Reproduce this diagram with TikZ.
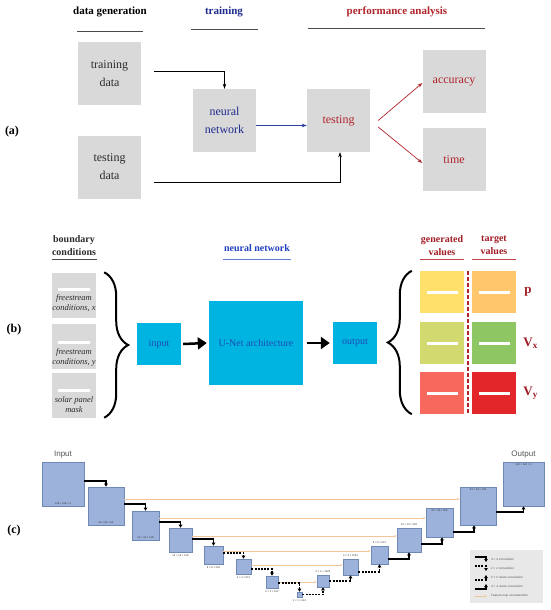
\documentclass[tikz,border=0pt]{standalone}
\usepackage{fontspec}
\setmainfont{Liberation Serif}
\setsansfont{Liberation Sans}
\usepackage{xcolor}
\usepackage{tikz}
\usetikzlibrary{arrows.meta,positioning,decorations.pathreplacing}
\definecolor{GrayF}{HTML}{D9D9D9}
\definecolor{LineG}{HTML}{4A4A4A}
\definecolor{TextG}{HTML}{2B2B2B}
\definecolor{NavyT}{HTML}{1F2C8C}
\definecolor{NavyB}{HTML}{2040C0}
\definecolor{BlueA}{HTML}{2E3F9E}
\definecolor{RedT}{HTML}{B0242B}
\definecolor{DRed}{HTML}{A01C24}
\definecolor{RedL}{HTML}{C0484E}
\definecolor{CyanF}{HTML}{00B4E1}
\definecolor{CyanT}{HTML}{1D4DB5}
\definecolor{YelF}{HTML}{FFE06B}
\definecolor{OrnF}{HTML}{FFC66B}
\definecolor{OlvF}{HTML}{D2D96E}
\definecolor{GrnF}{HTML}{8DC663}
\definecolor{SalF}{HTML}{F8695D}
\definecolor{RedF}{HTML}{E3262A}
\definecolor{UFill}{HTML}{9CB2DA}
\definecolor{UEdge}{HTML}{7088B5}
\definecolor{SkipC}{HTML}{F2C49A}
\definecolor{LegF}{HTML}{E8E8E8}
\definecolor{LabG}{HTML}{555555}
\newcommand{\whbar}{\textcolor{white}{\rule{31pt}{3pt}}}

\begin{document}
\begin{tikzpicture}[x=1pt,y=-1pt,
    hd/.style={font=\fontsize{11}{13}\selectfont\bfseries,text=black},
    hdb/.style={font=\fontsize{10}{13}\selectfont\bfseries,align=center,text=TextG},
    tag/.style={font=\fontsize{12}{14}\selectfont\bfseries},
    rule/.style={draw=LineG,line width=0.8pt},
    gbox/.style={fill=GrayF,minimum width=63pt,minimum height=63pt,inner sep=0pt,
      align=center,font=\fontsize{12}{18}\selectfont,text=TextG},
    arr/.style={-{Stealth[length=5pt,width=3.5pt]},line width=0.7pt},
    bcbox/.style={fill=GrayF,minimum width=44pt,minimum height=45pt,inner sep=0pt},
    bctxt/.style={font=\fontsize{8.5}{10}\selectfont\itshape,align=center,text=TextG,inner sep=0pt},
    wbar/.style={white,line width=2.5pt},
    brc/.style={decorate,decoration={brace,amplitude=24pt},line width=2pt},
    cbox/.style={fill=CyanF,text=CyanT,inner sep=0pt,font=\fontsize{10}{12}\selectfont},
    fat/.style={line width=2.5pt,-{Triangle[length=9pt,width=12pt]}},
    vbox/.style={minimum width=44pt,minimum height=42pt,inner sep=0pt},
    vl/.style={font=\fontsize{13}{15}\selectfont\bfseries,text=DRed,inner sep=0pt},
    ublk/.style={fill=UFill,draw=UEdge,line width=0.6pt,inner sep=0pt},
    ulab/.style={font=\sffamily\fontsize{2.6}{3}\selectfont,inner sep=0.4pt,text=black!80},
    utit/.style={font=\sffamily\fontsize{8}{9}\selectfont,text=LabG,inner sep=1pt},
    conv/.style={line width=1.1pt,-{Triangle[length=3pt,width=3.5pt]}},
    convd/.style={conv,dash pattern=on 2pt off 1.2pt},
    skipc/.style={draw=SkipC,line width=0.6pt,-{Stealth[length=2.5pt,width=2pt]}},
    ltxt/.style={font=\sffamily\fontsize{3}{3.5}\selectfont,text=LabG,anchor=west,inner sep=0pt}]
  \useasboundingbox (0,0) rectangle (550,610);

  % (a) workflow
  \node[hd] (hgen) at (110,12) {data generation};
  \node[hd,text=NavyT] (htrn) at (224,12) {training};
  \node[hd,text=RedT] (hperf) at (397,12) {performance analysis};
  \draw[rule] (77,31) -- (143,31);
  \draw[rule] (191,29) -- (258,29);
  \draw[rule] (308,28) -- (485,28);
  \node[gbox] (trn) at (109.5,73.5) {training\\data};
  \node[gbox] (tst) at (109.5,167) {testing\\data};
  \node[gbox,text=NavyT] (nn) at (224.5,120.5) {neural\\network};
  \node[gbox,text=RedT] (test) at (338.5,120.5) {testing};
  \node[gbox,text=RedT] (acc) at (454,81.5) {accuracy};
  \node[gbox,text=RedT] (tim) at (454,159.5) {time};
  \node[tag] (ta) at (12,132) {(a)};
  \draw[arr] ([xshift=13pt,yshift=2.5pt]trn.east) -| (nn.north);
  \draw[arr] ([xshift=13pt,yshift=-15pt]tst.east) -| ([xshift=1.5pt]test.south);
  \draw[arr,BlueA] ([yshift=-5pt]nn.east) -- ([yshift=-5pt]test.west);
  \draw[arr,RedT] ([xshift=8pt]test.east) -- ([yshift=-1.5pt]acc.west);
  \draw[arr,RedT] ([xshift=8pt,yshift=-6.5pt]test.east) -- ([yshift=-3.5pt]tim.west);

  % (b) inputs / network / outputs
  \node[tag] (tb) at (14,330) {(b)};
  \node[hdb] (hbc) at (74,245.5) {boundary\\conditions};
  \draw[rule] (52,259) -- (97,259);
  \node[bcbox] (bc1) at (74,295) {};
  \node[bcbox] (bc2) at (74,346) {};
  \node[bcbox] (bc3) at (74,395) {};
  \draw[wbar] ([xshift=6pt,yshift=-17pt]bc1.north west) -- ([xshift=-6pt,yshift=-17pt]bc1.north east);
  \draw[wbar] ([xshift=6pt,yshift=-19pt]bc2.north west) -- ([xshift=-6pt,yshift=-19pt]bc2.north east);
  \draw[wbar] ([xshift=6pt,yshift=-18pt]bc3.north west) -- ([xshift=-6pt,yshift=-18pt]bc3.north east);
  \node[bctxt] (bt1) at ([yshift=-8pt]bc1.center) {freestream\\conditions, x};
  \node[bctxt] (bt2) at ([yshift=-11pt]bc2.center) {freestream\\conditions, y};
  \node[bctxt] (bt3) at ([yshift=-10pt]bc3.center) {solar panel\\mask};
  \draw[brc] ([xshift=8pt]bc1.north east) -- ([xshift=8pt]bc3.south east);

  \node[hdb,text=NavyB] (hnn) at (257,248) {neural network};
  \draw[rule,draw=NavyB!70] (223,259) -- (291,259);
  \node[cbox,minimum width=44pt,minimum height=42pt] (inp) at (159,344) {input};
  \node[cbox,minimum width=94pt,minimum height=84pt] (unet) at (256,343) {U-Net architecture};
  \node[cbox,minimum width=44pt,minimum height=42pt] (outp) at (355,343) {output};
  \draw[fat] ([xshift=2pt]inp.east) -- ([xshift=-2pt]unet.west);
  \draw[fat] ([xshift=4pt]unet.east) -- ([xshift=-3pt]outp.west);

  \node[hdb,text=DRed] (hgv) at (442,245.5) {generated\\values};
  \node[hdb,text=DRed] (htv) at (494,245.5) {target\\values};
  \draw[rule,draw=RedL] (420,259) -- (464,259);
  \draw[rule,draw=RedL] (472,259) -- (516,259);
  \node[vbox,fill=YelF] (gp) at (442,292) {\whbar};
  \node[vbox,fill=OrnF] (tp) at (494,292) {\whbar};
  \node[vbox,fill=OlvF] (gvx) at (442,343) {\whbar};
  \node[vbox,fill=GrnF] (tvx) at (494,343) {\whbar};
  \node[vbox,fill=SalF] (gvy) at (442,393) {\whbar};
  \node[vbox,fill=RedF] (tvy) at (494,393) {\whbar};
  \draw[RedT,line width=1.5pt,dash pattern=on 4pt off 2pt]
    ([xshift=4pt]gp.north east) -- ([xshift=4pt]gvy.south east);
  \draw[brc] ([xshift=-8pt]gvy.south west) -- ([xshift=-8pt]gp.north west);
  \node[vl,right=8pt of tp] (lp) {p};
  \node[vl,right=7pt of tvx] (lvx) {V\textsubscript{x}};
  \node[vl,right=7pt of tvy] (lvy) {V\textsubscript{y}};

  % (c) U-Net
  \node[tag] (tc) at (14,531) {(c)};
  \node[ublk,minimum width=42pt,minimum height=44pt] (e1) at (63,484) {};
  \node[ublk,minimum width=36pt,minimum height=38pt] (e2) at (106,506) {};
  \node[ublk,minimum width=27pt,minimum height=29pt] (e3) at (145.5,525.5) {};
  \node[ublk,minimum width=23pt,minimum height=24pt] (e4) at (180.5,540) {};
  \node[ublk,minimum width=19pt,minimum height=18pt] (e5) at (213.5,555) {};
  \node[ublk,minimum width=15pt,minimum height=15pt] (e6) at (243.5,566.5) {};
  \node[ublk,minimum width=12pt,minimum height=12pt] (e7) at (272,582) {};
  \node[ublk,minimum width=5pt,minimum height=5pt] (e8) at (299.5,594.5) {};
  \node[ublk,minimum width=12pt,minimum height=12pt] (d9) at (323,581) {};
  \node[ublk,minimum width=15pt,minimum height=16pt] (d10) at (350.5,567) {};
  \node[ublk,minimum width=17pt,minimum height=18pt] (d11) at (379.5,555) {};
  \node[ublk,minimum width=24pt,minimum height=24pt] (d12) at (409,540) {};
  \node[ublk,minimum width=27pt,minimum height=29pt] (d13) at (439.5,522.5) {};
  \node[ublk,minimum width=36pt,minimum height=38pt] (d14) at (478,506) {};
  \node[ublk,minimum width=41pt,minimum height=44pt] (d15) at (523.5,484) {};
  \node[utit,above=2pt of e1] (tin) {Input};
  \node[utit,above=2pt of d15] (tout) {Output};
  \node[ulab,above=1.5pt of e1.south] (le1) {128 × 128 × 3};
  \node[ulab,above=1.5pt of e2.south] (le2) {64 × 64 × 64};
  \node[ulab,above=1.5pt of e3.south] (le3) {32 × 32 × 128};
  \node[ulab,below=1.5pt of e4] (le4) {16 × 16 × 128};
  \node[ulab,below=1.5pt of e5] (le5) {8 × 8 × 256};
  \node[ulab,below=1.5pt of e6] (le6) {4 × 4 × 512};
  \node[ulab,below=1.5pt of e7] (le7) {2 × 2 × 512};
  \node[ulab,below=1.5pt of e8] (le8) {1 × 1 × 512};
  \node[ulab,above=1.5pt of d9] (ld9) {2 × 2 × 1024};
  \node[ulab,above=1.5pt of d10] (ld10) {4 × 4 × 1024};
  \node[ulab,above=1.5pt of d11] (ld11) {8 × 8 × 512};
  \node[ulab,above=1.5pt of d12] (ld12) {16 × 16 × 256};
  \node[ulab,below=1.5pt of d13.north] (ld13) {32 × 32 × 256};
  \node[ulab,below=1.5pt of d14.north] (ld14) {64 × 64 × 128};
  \node[ulab,below=1.5pt of d15.north] (ld15) {128 × 128 × 4};
  % skip connections
  \draw[skipc] ([yshift=7pt]e2.east) coordinate (s2) -- (s2 -| d14.west);
  \draw[skipc] ([yshift=7.5pt]e3.east) coordinate (s3) -- (s3 -| d13.west);
  \draw[skipc] ([yshift=4pt]e4.east) coordinate (s4) -- (s4 -| d12.west);
  \draw[skipc] ([yshift=4pt]e5.east) coordinate (s5) -- (s5 -| d11.west);
  \draw[skipc] ([yshift=1.5pt]e6.east) coordinate (s6) -- (s6 -| d10.west);
  \draw[skipc] (e7.east) -- (e7.east -| d9.west);
  % down path
  \draw[conv] ([yshift=3pt]e1.east) -| (e2.north);
  \draw[conv] ([yshift=2pt]e2.east) -| (e3.north);
  \draw[conv] ([yshift=3.5pt]e3.east) -| (e4.north);
  \draw[conv] ([yshift=1pt]e4.east) -| (e5.north);
  \draw[convd] ([yshift=2pt]e5.east) -| (e6.north);
  \draw[convd] ([yshift=-2.5pt]e6.east) -| (e7.north);
  \draw[convd] ([yshift=-1pt]e7.east) -| (e8.north);
  % up path
  \draw[convd] (e8.east) -| (d9.south);
  \draw[convd] (d9.east) -| (d10.south);
  \draw[convd] ([yshift=-5pt]d10.east) -| (d11.south);
  \draw[conv] ([yshift=-4pt]d11.east) -| (d12.south);
  \draw[conv] ([yshift=-4pt]d12.east) -| ([xshift=2.5pt]d13.south);
  \draw[conv] ([yshift=-9.5pt]d13.east) -| ([xshift=-4pt]d14.south);
  \draw[conv] ([yshift=-6pt]d14.east) -| (d15.south);
  % legend
  \node[fill=LegF,minimum width=73pt,minimum height=53pt,inner sep=0pt] (leg) at (506.5,576.5) {};
  \draw[conv] (475,557) -- (486,557) -- (486,562);
  \node[ltxt] (k1) at (491,559) {4 × 4 convolution};
  \draw[convd] (475,566) -- (486,566) -- (486,571);
  \node[ltxt] (k2) at (491,568) {2 × 2 convolution};
  \draw[convd] (475,580) -- (486,580) -- (486,575);
  \node[ltxt] (k3) at (491,577) {2 × 2 resize-convolution};
  \draw[conv] (475,589) -- (486,589) -- (486,584);
  \node[ltxt] (k4) at (491,586) {4 × 4 resize-convolution};
  \draw[skipc] (475,596) -- (487,596);
  \node[ltxt] (k5) at (491,596) {Feature-map concatenation};
\end{tikzpicture}
\end{document}
